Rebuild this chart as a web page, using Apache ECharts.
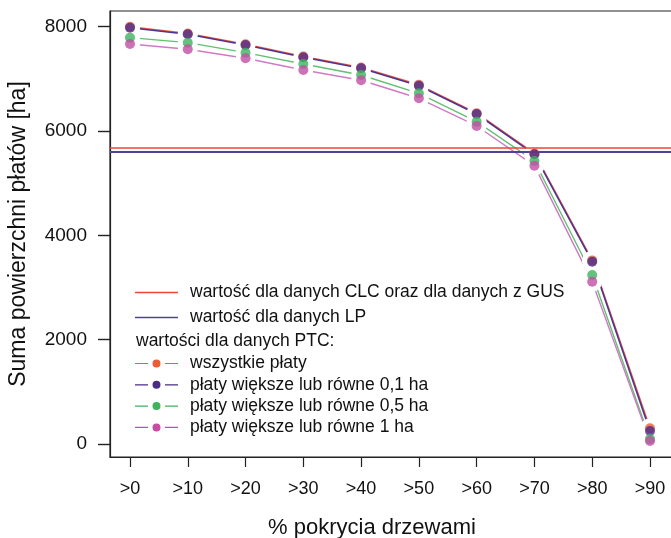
<!DOCTYPE html>
<html>
<head>
<meta charset="utf-8">
<script src="https://cdn.jsdelivr.net/npm/echarts@6/dist/echarts.min.js"></script>
<style>
html,body{margin:0;padding:0;background:#fff;}
#chart{width:671px;height:538px;}
</style>
</head>
<body>
<div id="chart"></div>
<script>
// ---- data ----
const categories = ['>0', '>10', '>20', '>30', '>40', '>50', '>60', '>70', '>80', '>90'];
const allPatches = [8000, 7870, 7665, 7430, 7218, 6885, 6342, 5570, 3520, 300];
const patches01 = [7981, 7855, 7650, 7414, 7203, 6869, 6326, 5554, 3495, 249];
const patches05 = [7790, 7694, 7502, 7285, 7074, 6723, 6179, 5426, 3240, 96];
const patches1 = [7669, 7567, 7395, 7170, 6973, 6628, 6097, 5336, 3112, 58];
const clcValue = 5680;
const lpValue = 5600;
const yTicks = [0, 2000, 4000, 6000, 8000];
const xTicks = categories.map((c, i) => i);

const nameCLC = 'wartość dla danych CLC oraz dla danych z GUS';
const nameLP = 'wartość dla danych LP';
const headerPTC = 'wartości dla danych PTC:';
const ptc = [
  {name: 'wszystkie płaty', values: allPatches, dot: '#ee5a3c', line: '#f2563e', w: 1.6},
  {name: 'płaty większe lub równe 0,1 ha', values: patches01, dot: '#4a2c88', line: '#4d3590', w: 1.6},
  {name: 'płaty większe lub równe 0,5 ha', values: patches05, dot: '#3cb35c', line: '#62c070', w: 1.4},
  {name: 'płaty większe lub równe 1 ha', values: patches1, dot: '#c14fa4', line: '#d07ac6', w: 1.4}
];

const FONT = '"Liberation Sans", Arial, Helvetica, sans-serif';
const toXY = arr => arr.map((v, i) => [i, v]);

const series = [];
// lines
ptc.forEach(p => {
  series.push({
    name: p.name, type: 'line', data: toXY(p.values), color: p.dot,
    showSymbol: false, symbol: 'none', z: 2, silent: true,
    lineStyle: {color: p.line, width: p.w}
  });
});
// knockouts (gaps around points)
ptc.forEach((p, k) => {
  series.push({
    name: 'gap' + k, type: 'line', data: toXY(p.values), z: 3, silent: true,
    symbol: 'circle', symbolSize: 20, showSymbol: true,
    itemStyle: {color: '#fff', borderWidth: 0},
    lineStyle: {width: 0, opacity: 0}
  });
});
// reference lines
series.push({
  name: nameCLC, type: 'line', data: [], color: '#f04434', z: 4, symbol: 'none',
  markLine: {silent: true, symbol: 'none', label: {show: false}, animation: false,
    lineStyle: {color: '#f04434', width: 1.5, type: 'solid'}, data: [{yAxis: clcValue}]}
});
series.push({
  name: nameLP, type: 'line', data: [], color: '#4e4592', z: 4, symbol: 'none',
  markLine: {silent: true, symbol: 'none', label: {show: false}, animation: false,
    lineStyle: {color: '#4e4592', width: 2, type: 'solid'}, data: [{yAxis: lpValue}]}
});
// markers
ptc.forEach((p, k) => {
  series.push({
    name: 'pt' + k, type: 'scatter', data: toXY(p.values), z: 5, silent: true,
    symbol: 'circle', symbolSize: 10, itemStyle: {color: p.dot}
  });
});

const ptcIcon = 'path://M0,4.4H13V5.6H0Z M30,4.4H43V5.6H30Z M17.5,5a4,4 0 1 0 8,0a4,4 0 1 0 -8,0Z';
const lineIcon = 'path://M0,0H43V1.5H0Z';

const option = {
  animation: false,
  backgroundColor: '#fff',
  textStyle: {fontFamily: FONT},
  title: {
    text: headerPTC, left: 136, top: 332.5, padding: 0,
    textStyle: {fontFamily: FONT, fontSize: 17.5, fontWeight: 'normal', color: '#111'}
  },
  grid: {left: 110, right: -1, top: 11, bottom: 81, outerBoundsMode: 'none', containLabel: false,
    show: true, borderColor: '#222', borderWidth: 1.2, backgroundColor: 'transparent'},
  legend: [
    {
      left: 135, top: 283.5, orient: 'vertical', padding: 0, itemGap: 7,
      itemWidth: 43, itemHeight: 10, selectedMode: false,
      textStyle: {fontFamily: FONT, fontSize: 17.5, color: '#111', padding: [0, 0, 0, 7]},
      data: [{name: nameCLC, icon: lineIcon}, {name: nameLP, icon: lineIcon}]
    },
    {
      left: 135, top: 354.5, orient: 'vertical', padding: 0, itemGap: 3.3,
      itemWidth: 43, itemHeight: 10, selectedMode: false,
      textStyle: {fontFamily: FONT, fontSize: 17.5, color: '#111', padding: [0, 0, 0, 7]},
      data: ptc.map(p => ({name: p.name, icon: ptcIcon}))
    }
  ],
  xAxis: [
    {
      type: 'value', min: -0.346, max: 9.381,
      name: '% pokrycia drzewami', nameLocation: 'middle', nameGap: 60,
      nameTextStyle: {fontFamily: FONT, fontSize: 22, color: '#111', padding: [0, 38, 0, 0]},
      axisLine: {show: true, onZero: false, lineStyle: {color: '#222', width: 1.2}}, splitLine: {show: false},
      axisTick: {show: true, inside: false, length: 10, customValues: xTicks, lineStyle: {color: '#222', width: 1.2}},
      axisLabel: {customValues: xTicks, margin: 23, fontFamily: FONT, fontSize: 18, color: '#111',
        formatter: v => categories[Math.round(v)]}
    },
    {type: 'value', min: 0, max: 1, show: false, position: 'top'}
  ],
  yAxis: {
    type: 'value', min: -249, max: 8301, position: 'left',
    name: 'Suma powierzchni płatów [ha]', nameLocation: 'middle', nameGap: 80, nameRotate: 90,
    nameTextStyle: {fontFamily: FONT, fontSize: 23, color: '#111'},
    axisLine: {show: true, onZero: true, onZeroAxisIndex: 1, lineStyle: {color: '#222', width: 1.2}}, splitLine: {show: false},
    axisTick: {show: true, inside: false, length: 12, customValues: yTicks, lineStyle: {color: '#222', width: 1.4}},
    axisLabel: {customValues: yTicks, margin: 23, fontFamily: FONT, fontSize: 19, color: '#111',
      padding: [5, 0, 0, 0], formatter: v => String(v)}
  },
  series: series
};

const chart = echarts.init(document.getElementById('chart'), null, {renderer: 'canvas'});
chart.setOption(option);
</script>
</body>
</html>
